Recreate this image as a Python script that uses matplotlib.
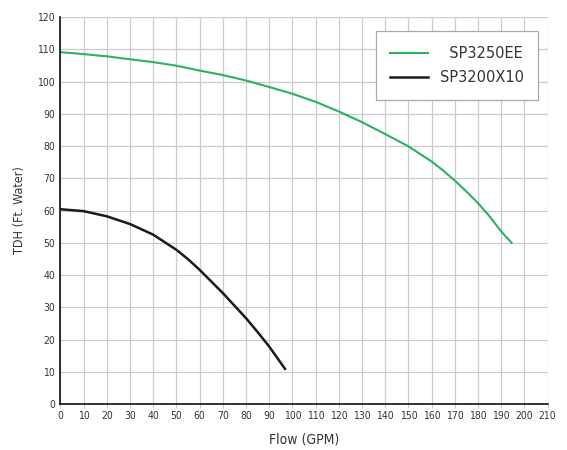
import matplotlib
matplotlib.use("Agg")
import matplotlib.pyplot as plt

# pump curves
flow_ee = [0, 10, 20, 30, 40, 50, 60, 70, 80, 90, 100, 110, 120, 130, 140, 150, 160, 165, 170, 175, 180,
           185, 190, 194.5]
tdh_ee = [109.1, 108.5, 107.8, 106.9, 106.0, 104.9, 103.4, 102.0, 100.3, 98.3, 96.2, 93.7, 90.7, 87.4, 83.7,
          79.9, 75.2, 72.4, 69.3, 65.9, 62.3, 58.2, 53.5, 50.0]

flow_x10 = [0, 10, 20, 30, 40, 50, 55, 60, 65, 70, 75, 80, 85, 90, 96.8]
tdh_x10 = [60.4, 59.8, 58.2, 55.8, 52.5, 47.8, 44.9, 41.6, 38.0, 34.4, 30.5, 26.6, 22.3, 17.8, 10.9]

xticks = list(range(0, 211, 10))
yticks = list(range(0, 121, 10))

plt.rcParams['font.family'] = ['DejaVu Sans']

fig = plt.figure(figsize=(5.67, 4.5), dpi=100)
ax = fig.add_axes([0.1067, 0.1022, 0.859, 0.86])

ax.plot(flow_ee, tdh_ee, color='#2bb35e', linewidth=1.5, label='  SP3250EE')
ax.plot(flow_x10, tdh_x10, color='#1a1a1a', linewidth=1.8, label='SP3200X10')

ax.set_xlim(0, 210)
ax.set_ylim(0, 120)
ax.set_xticks(xticks)
ax.set_yticks(yticks)
ax.tick_params(axis='x', labelsize=7.5, length=3, color='#cccccc', colors='#333333', pad=2)
ax.tick_params(axis='y', labelsize=7.5, length=0, colors='#333333', pad=4)
for lab in ax.get_xticklabels() + ax.get_yticklabels():
    lab.set_fontstretch('condensed')

ax.grid(True, color='#cccccc', linewidth=0.9)
ax.set_axisbelow(True)
for s in ['top', 'right']:
    ax.spines[s].set_visible(False)
for s in ['left', 'bottom']:
    ax.spines[s].set_color('#111111')
    ax.spines[s].set_linewidth(1.2)

ax.set_xlabel('Flow (GPM)', fontsize=10, color='#333333', labelpad=8, fontstretch='condensed')
ax.set_ylabel('TDH (Ft. Water)', fontsize=9, color='#333333', labelpad=8, fontstretch='condensed')

leg = ax.legend(loc='upper right', bbox_to_anchor=(0.981, 0.963), fontsize=10.5, fancybox=False,
                edgecolor='#aaaaaa', framealpha=1, handlelength=2.6, borderpad=1.0,
                labelspacing=0.65, borderaxespad=0)
leg.get_frame().set_linewidth(0.9)
for t in leg.get_texts():
    t.set_color('#333333')

fig.savefig('out.png', dpi=100)
